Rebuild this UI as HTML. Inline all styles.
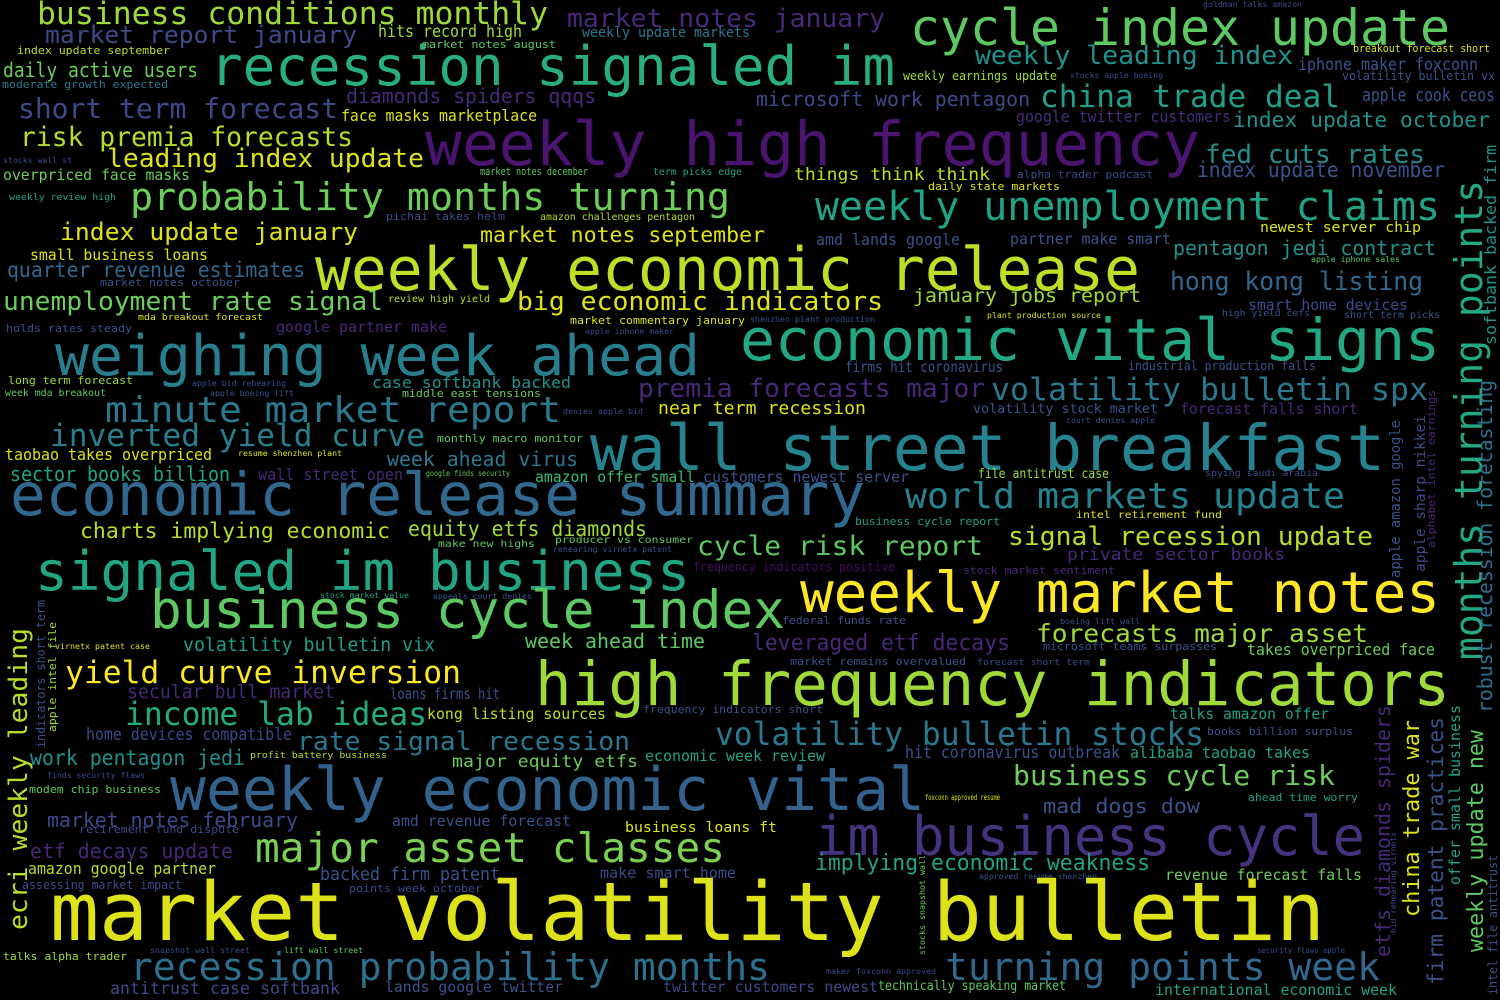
<!DOCTYPE html>
<html><head><meta charset="utf-8"><title>Word cloud</title>
<style>
html,body{margin:0;padding:0;background:#000;}
svg{display:block;}
text{font-family:"DejaVu Sans Mono","Liberation Mono",monospace;}
</style></head>
<body>
<svg id="cloud" width="1500" height="1000" viewBox="0 0 1500 1000" xmlns="http://www.w3.org/2000/svg">
<rect width="1500" height="1000" fill="#000"/>
</svg>
<script>
// [phrase, x-start, x-end (or y-range for vertical), baseline, size, color, vertical]
const phrases = [
["business conditions monthly",37,548,24,31,"#a0da39"],
["market notes january",567,885,27,26,"#482878"],
["cycle index update",910,1450,45,50,"#5ec962"],
["market report january",45,357,43,24,"#3e4989"],
["hits record high",378,522,37,17,"#a0da39"],
["weekly update markets",582,750,37,14,"#2a788e"],
["goldman talks amazon",1203,1302,7,8,"#3e4989"],
["index update september",17,170,54,11,"#b5de2b"],
["market notes august",422,556,48,11,"#5ec962"],
["breakout forecast short",1353,1490,52,11,"#dde318"],
["weekly leading index",975,1293,64,26,"#21918c"],
["recession signaled im",210,895,85,54,"#29af7f"],
["daily active users",3,198,77,20,"#6ccd5a"],
["weekly earnings update",903,1057,80,12,"#a0da39"],
["iphone maker foxconn",1298,1478,70,17,"#3b528b"],
["stocks apple boeing",1070,1163,78,8,"#3e4989"],
["volatility bulletin vx",1342,1495,80,12,"#3b528b"],
["moderate growth expected",2,168,88,11,"#2a788e"],
["diamonds spiders qqqs",346,596,103,20,"#482878"],
["microsoft work pentagon",756,1030,106,20,"#3e4989"],
["china trade deal",1040,1340,107,31,"#1f9e89"],
["apple cook ceos",1362,1495,101,18,"#3b528b"],
["short term forecast",18,338,118,28,"#3e4989"],
["face masks marketplace",341,537,121,16,"#dde318"],
["google twitter customers",1016,1231,122,16,"#472d7b"],
["index update october",1233,1490,127,21,"#21918c"],
["weekly high frequency",425,1200,165,61,"#4a1470"],
["risk premia forecasts",20,353,146,27,"#b5de2b"],
["leading index update",107,424,167,26,"#dde318"],
["stocks wall st",3,72,163,8,"#3e4989"],
["fed cuts rates",1205,1425,163,26,"#218f8d"],
["overpriced face masks",3,190,180,15,"#6ccd5a"],
["market notes december",480,588,175,11,"#5ec962"],
["term picks edge",653,742,175,10,"#20a386"],
["things think think",794,990,180,17,"#bddf26"],
["index update november",1197,1445,177,21,"#3b528b"],
["alpha trader podcast",1017,1153,178,11,"#3e4989"],
["daily state markets",928,1060,190,11,"#dde318"],
["weekly review high",9,116,200,9,"#20a386"],
["probability months turning",130,730,210,38,"#6ccd5a"],
["weekly unemployment claims",815,1440,220,40,"#20a386"],
["pichai takes helm",386,505,220,11,"#3e4989"],
["amazon challenges pentagon",540,695,220,10,"#b5de2b"],
["newest server chip",1260,1421,232,14,"#dde318"],
["index update january",60,358,240,24,"#dde318"],
["market notes september",480,765,242,21,"#dde318"],
["amd lands google",816,960,245,16,"#3b528b"],
["partner make smart",1010,1171,244,15,"#3b528b"],
["pentagon jedi contract",1173,1436,255,20,"#21918c"],
["small business loans",30,208,260,15,"#dde318"],
["apple iphone sales",1311,1400,262,8,"#5ec962"],
["weekly economic release",315,1140,290,60,"#bddf26"],
["quarter revenue estimates",7,305,277,21,"#31688e"],
["market notes october",100,240,286,11,"#3b528b"],
["hong kong listing",1170,1423,290,26,"#31688e"],
["unemployment rate signal",3,383,310,26,"#6ccd5a"],
["review high yield",388,490,302,10,"#b5de2b"],
["big economic indicators",517,883,310,26,"#dde318"],
["january jobs report",913,1141,302,19,"#a0da39"],
["smart home devices",1248,1408,310,15,"#3e4989"],
["mda breakout forecast",138,263,320,9,"#dde318"],
["market commentary january",570,745,324,11,"#dde318"],
["shenzhen plant production",750,875,322,8,"#3b528b"],
["plant production source",987,1101,318,8,"#dde318"],
["high yield cefs",1222,1310,316,9,"#3b528b"],
["short term picks",1344,1440,318,10,"#3b528b"],
["economic vital signs",740,1440,360,58,"#22a884"],
["holds rates steady",6,132,332,11,"#3b528b"],
["google partner make",276,447,332,15,"#482878"],
["apple iphone maker",585,674,334,8,"#3e4989"],
["weighing week ahead",55,700,375,56,"#277f8e"],
["long term forecast",8,133,384,11,"#a0da39"],
["apple bid rehearing",192,286,386,8,"#3b528b"],
["firms hit coronavirus",845,1003,372,15,"#3b528b"],
["industrial production falls",1128,1316,370,12,"#3b528b"],
["week mda breakout",5,106,396,10,"#5ec962"],
["apple boeing lift",210,294,396,8,"#3b528b"],
["case softbank backed",372,571,388,16,"#21918c"],
["middle east tensions",402,541,397,11,"#6ccd5a"],
["premia forecasts major",638,985,397,26,"#482878"],
["volatility bulletin spx",991,1428,400,31,"#2a788e"],
["minute market report",105,561,422,36,"#2a788e"],
["near term recession",658,866,414,18,"#dde318"],
["denies apple bid",563,643,414,8,"#3e4989"],
["volatility stock market",973,1158,413,13,"#3b528b"],
["forecast falls short",1180,1358,414,15,"#482878"],
["court denies apple",1066,1155,423,8,"#3b528b"],
["inverted yield curve",50,425,446,31,"#277f8e"],
["monthly macro monitor",437,583,442,11,"#5ec962"],
["resume shenzhen plant",238,342,456,8,"#dde318"],
["taobao takes overpriced",5,212,460,16,"#dde318"],
["week ahead virus",387,578,466,20,"#2a788e"],
["wall street breakfast",590,1385,470,63,"#26828e"],
["sector books billion",10,230,481,20,"#20a386"],
["wall street open",258,403,480,16,"#482878"],
["google finds security",426,510,476,8,"#6ccd5a"],
["amazon offer small",535,695,482,15,"#3bbb75"],
["customers newest server",703,909,482,15,"#3b528b"],
["file antitrust case",978,1109,478,13,"#a0da39"],
["spying saudi arabia",1205,1318,476,9,"#3e4989"],
["economic release summary",10,865,515,59,"#31688e"],
["world markets update",905,1345,508,36,"#26828e"],
["business cycle report",855,1000,525,11,"#20a386"],
["intel retirement fund",1076,1222,518,10,"#dde318"],
["charts implying economic",80,390,538,21,"#b5de2b"],
["equity etfs diamonds",408,647,536,21,"#a0da39"],
["signal recession update",1008,1373,545,26,"#b5de2b"],
["make new highs",438,535,547,10,"#5ec962"],
["producer vs consumer",555,693,543,10,"#5ec962"],
["cycle risk report",697,983,555,27,"#5ec962"],
["rehearing virnetx patent",553,672,552,8,"#3b528b"],
["private sector books",1067,1285,560,17,"#482878"],
["frequency indicators positive",693,895,571,12,"#440f5e"],
["stock market sentiment",963,1115,574,11,"#482878"],
["signaled im business",35,690,590,54,"#21a585"],
["stock market value",320,409,598,8,"#20a386"],
["appeals court denies",433,532,599,8,"#3b528b"],
["weekly market notes",800,1440,612,56,"#fde725"],
["business cycle index",150,785,628,53,"#5ec962"],
["federal funds rate",782,906,624,11,"#3b528b"],
["boeing lift wall",1060,1140,624,8,"#3b528b"],
["volatility bulletin vix",183,435,651,19,"#1f9e89"],
["virnetx patent case",55,150,649,8,"#dde318"],
["week ahead time",525,705,648,20,"#5ec962"],
["leveraged etf decays",752,1010,650,22,"#482878"],
["forecasts major asset",1036,1368,642,25,"#a0da39"],
["microsoft teams surpasses",1043,1217,650,11,"#3b528b"],
["takes overpriced face",1247,1435,655,16,"#6ccd5a"],
["market remains overvalued",790,966,665,11,"#3b528b"],
["forecast short term",977,1090,665,9,"#3e4989"],
["yield curve inversion",65,461,683,31,"#fde725"],
["high frequency indicators",535,1450,705,61,"#a0da39"],
["secular bull market",127,335,698,19,"#482878"],
["loans firms hit",390,500,699,15,"#3b528b"],
["income lab ideas",125,427,725,32,"#25ab82"],
["kong listing sources",427,606,719,15,"#bddf26"],
["frequency indicators short",643,823,713,11,"#3b528b"],
["talks amazon offer",1170,1329,719,15,"#20a386"],
["books billion surplus",1207,1353,735,11,"#3b528b"],
["home devices compatible",86,292,740,17,"#3e4989"],
["rate signal recession",297,630,750,26,"#2a788e"],
["volatility bulletin stocks",715,1204,745,32,"#2a788e"],
["profit battery business",250,387,758,9,"#b5de2b"],
["work pentagon jedi",30,245,765,21,"#21918c"],
["major equity etfs",452,638,767,17,"#6ccd5a"],
["economic week review",645,825,761,15,"#20a386"],
["hit coronavirus outbreak",905,1120,758,17,"#3b528b"],
["alibaba taobao takes",1130,1310,758,16,"#20a386"],
["finds security flaws",47,145,778,8,"#3e4989"],
["business cycle risk",1013,1335,785,28,"#6ccd5a"],
["modem chip business",29,161,793,11,"#5ec962"],
["weekly economic vital",170,925,810,60,"#33638d"],
["mad dogs dow",1043,1200,813,20,"#3b528b"],
["ahead time worry",1248,1358,801,11,"#20a386"],
["foxconn approved resume",925,1000,800,8,"#dde318"],
["market notes february",47,298,827,20,"#3e4989"],
["amd revenue forecast",392,571,826,15,"#3b528b"],
["retirement fund dispute",79,239,833,11,"#3e4989"],
["business loans ft",625,777,832,14,"#dde318"],
["im business cycle",815,1365,855,54,"#46337f"],
["etf decays update",30,233,858,20,"#482878"],
["major asset classes",255,725,862,41,"#7ad151"],
["implying economic weakness",815,1150,870,22,"#20a386"],
["amazon google partner",28,216,874,16,"#b5de2b"],
["backed firm patent",320,500,880,18,"#3b528b"],
["make smart home",600,736,878,15,"#3e4989"],
["revenue forecast falls",1165,1362,880,15,"#6ccd5a"],
["approved resume shenzhen",979,1097,879,8,"#3b528b"],
["assessing market impact",22,182,889,12,"#3e4989"],
["points week october",349,482,892,11,"#3e4989"],
["market volatility bulletin",50,1325,940,81,"#dde318"],
["talks alpha trader",3,127,960,11,"#a0da39"],
["snapshot wall street",150,250,953,8,"#3e4989"],
["lift wall street",284,363,953,8,"#5ec962"],
["recession probability months",130,770,980,38,"#2d708e"],
["turning points week",945,1380,980,38,"#31688e"],
["maker foxconn approved",826,936,974,8,"#3e4989"],
["lands google twitter",385,563,992,15,"#3b528b"],
["antitrust case softbank",110,340,994,17,"#3e4989"],
["twitter customers newest",663,878,992,15,"#3e4989"],
["technically speaking market",878,1066,990,13,"#5ec962"],
["international economic week",1155,1397,995,15,"#20a386"],
["security flaws apple",1257,1345,953,8,"#3e4989"],
// vertical: [phrase, yTop, yBottom, baselineX, size, color, 1]
["months turning points",180,660,1482,38,"#22a884",1],
["robust recession forecasting",380,713,1492,20,"#2c728e",1],
["softbank backed firm",145,345,1496,16,"#21918c",1],
["ecri weekly leading",628,930,27,26,"#b5de2b",1],
["indicators short term",600,748,45,12,"#3b528b",1],
["apple intel file",622,732,56,11,"#a0da39",1],
["etfs diamonds spiders",705,957,1390,20,"#482878",1],
["china trade war",720,917,1419,22,"#dde318",1],
["firm patent practices",717,985,1443,21,"#3b528b",1],
["offer small business",705,885,1460,15,"#20a386",1],
["weekly update new",730,952,1483,22,"#5ec962",1],
["intel file antitrust",855,995,1497,12,"#3b528b",1],
["bid rehearing virnetx",832,933,1396,8,"#3e4989",1],
["apple amazon google",420,578,1400,14,"#3b528b",1],
["apple sharp nikkei",415,572,1425,14,"#3e4989",1],
["alphabet intel earnings",390,548,1435,11,"#482878",1],
["stocks snapshot wall",855,955,925,8,"#6ccd5a",1]
];
const svg = document.getElementById('cloud');
const NS = 'http://www.w3.org/2000/svg';
phrases.forEach(p => {
  const [txt, a, b, base, size, color, vert] = p;
  const t = document.createElementNS(NS, 'text');
  
  
  t.setAttribute('font-size', size);
  t.setAttribute('fill', color);
  t.setAttribute('textLength', b - a);
  t.setAttribute('lengthAdjust', 'spacingAndGlyphs');
  if (vert) {
    t.setAttribute('x', 0);
    t.setAttribute('y', 0);
    t.setAttribute('transform', 'translate(' + base + ',' + b + ') rotate(-90)');
  } else {
    t.setAttribute('x', a);
    t.setAttribute('y', base);
  }
  t.textContent = txt;
  svg.appendChild(t);
});
</script>
</body></html>
